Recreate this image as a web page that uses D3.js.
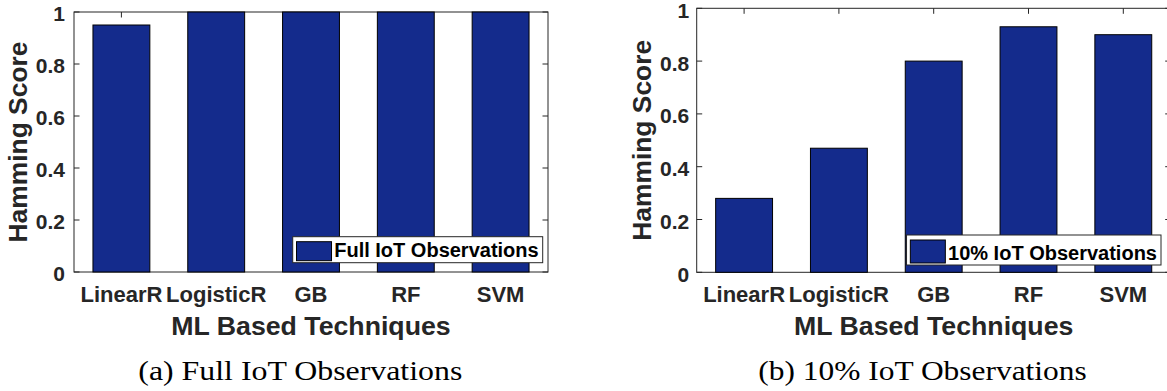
<!DOCTYPE html>
<html>
<head>
<meta charset="utf-8">
<script src="https://cdn.jsdelivr.net/npm/d3@7"></script>
<style>
  html, body { margin: 0; padding: 0; background: #fff; }
  svg { display: block; }
</style>
</head>
<body>
<svg id="fig" width="1167" height="391"></svg>
<script>
// Hamming score of each ML technique, for full and 10% IoT observations
const categories = ["LinearR", "LogisticR", "GB", "RF", "SVM"];
const fullObsScores = [0.95, 1.0, 1.0, 1.0, 1.0];
const tenPctObsScores = [0.28, 0.47, 0.80, 0.93, 0.90];
const yTicks = [0, 0.2, 0.4, 0.6, 0.8, 1];
const yTickLabels = ["0", "0.2", "0.4", "0.6", "0.8", "1"];
const legendLabels = ["Full IoT Observations", "10% IoT Observations"];
const captions = ["(a) Full IoT Observations", "(b) 10% IoT Observations"];
const xAxisTitle = "ML Based Techniques";
const yAxisTitle = "Hamming Score";

const barColor = "rgb(20,43,140)";
const axisColor = "#262626";

// subplot frames
const panels = [
  { values: fullObsScores, legend: legendLabels[0], caption: captions[0],
    x0: 74, x1: 548, yTop: 12, yBot: 272,
    tickLabelRight: 65, yTitleBase: 27,
    legRightGap: 5.3, legBottomGap: 9.3, legH: 26,
    capCx: 300.3, capLen: 324 },
  { values: tenPctObsScores, legend: legendLabels[1], caption: captions[1],
    x0: 696.7, x1: 1170.7, yTop: 8.3, yBot: 272.3,
    tickLabelRight: 689.3, yTitleBase: 651,
    legRightGap: 9.7, legBottomGap: 7.3, legH: 30,
    capCx: 922.5, capLen: 328.4 }
];

const svg = d3.select("#fig");
const sans = "'Liberation Sans', Arial, Helvetica, sans-serif";
const tickLen = 5.5;

panels.forEach(p => {
  const g = svg.append("g");
  const x = d3.scaleBand().domain(categories).range([p.x0, p.x1])
    .paddingInner(0.4).paddingOuter(0.2);
  const y = d3.scaleLinear().domain([0, 1]).range([p.yBot, p.yTop]);

  // inward ticks on all four sides (drawn beneath the bars)
  const ticks = g.append("g").attr("stroke", axisColor).attr("stroke-width", 1);
  yTicks.forEach(t => {
    ticks.append("line").attr("x1", p.x0).attr("x2", p.x0 + tickLen)
      .attr("y1", y(t)).attr("y2", y(t));
    ticks.append("line").attr("x1", p.x1).attr("x2", p.x1 - tickLen)
      .attr("y1", y(t)).attr("y2", y(t));
  });
  categories.forEach(c => {
    const cx = x(c) + x.bandwidth() / 2;
    ticks.append("line").attr("x1", cx).attr("x2", cx)
      .attr("y1", p.yTop).attr("y2", p.yTop + tickLen);
    ticks.append("line").attr("x1", cx).attr("x2", cx)
      .attr("y1", p.yBot).attr("y2", p.yBot - tickLen);
  });

  // axes box
  g.append("rect")
    .attr("x", p.x0).attr("y", p.yTop)
    .attr("width", p.x1 - p.x0).attr("height", p.yBot - p.yTop)
    .attr("fill", "none").attr("stroke", axisColor).attr("stroke-width", 1);

  // bars
  g.selectAll("rect.bar").data(p.values).join("rect")
    .attr("class", "bar")
    .attr("x", (d, i) => x(categories[i]))
    .attr("width", x.bandwidth())
    .attr("y", d => y(d))
    .attr("height", d => y(0) - y(d))
    .attr("fill", barColor)
    .attr("stroke", "#000").attr("stroke-width", 1);

  // y tick labels
  g.selectAll("text.ytl").data(yTicks).join("text")
    .attr("class", "ytl")
    .attr("x", p.tickLabelRight).attr("y", d => y(d))
    .attr("dy", "0.45em").attr("text-anchor", "end")
    .attr("font-family", sans).attr("font-weight", "bold")
    .attr("font-size", 21).attr("fill", axisColor)
    .text((d, i) => yTickLabels[i]);

  // x tick labels
  g.selectAll("text.xtl").data(categories).join("text")
    .attr("class", "xtl")
    .attr("x", d => x(d) + x.bandwidth() / 2).attr("y", 301.7)
    .attr("text-anchor", "middle")
    .attr("font-family", sans).attr("font-weight", "bold")
    .attr("font-size", 22).attr("fill", axisColor)
    .text(d => d);

  // axis titles
  g.append("text")
    .attr("x", (p.x0 + p.x1) / 2).attr("y", 335)
    .attr("text-anchor", "middle")
    .attr("font-family", sans).attr("font-weight", "bold")
    .attr("font-size", 26.7).attr("fill", axisColor)
    .text(xAxisTitle);
  g.append("text")
    .attr("transform", `translate(${p.yTitleBase},${(p.yTop + p.yBot) / 2}) rotate(-90)`)
    .attr("text-anchor", "middle")
    .attr("font-family", sans).attr("font-weight", "bold")
    .attr("font-size", 26.4).attr("fill", axisColor)
    .text(yAxisTitle);

  // legend (south-east corner)
  const leg = g.append("g");
  const legBox = leg.append("rect").attr("fill", "#fff")
    .attr("stroke", axisColor).attr("stroke-width", 1);
  const legText = leg.append("text")
    .attr("font-family", sans).attr("font-weight", "bold")
    .attr("font-size", 20).attr("fill", "#000")
    .text(p.legend);
  const tw = legText.node().getComputedTextLength();
  const boxW = 41.5 + tw + 4;
  const bx = p.x1 - p.legRightGap - boxW;
  const by = p.yBot - p.legBottomGap - p.legH;
  legBox.attr("x", bx).attr("y", by).attr("width", boxW).attr("height", p.legH);
  leg.append("rect")
    .attr("x", bx + 3.8).attr("y", by + 5)
    .attr("width", 35).attr("height", p.legH - 7)
    .attr("fill", barColor).attr("stroke", "#000").attr("stroke-width", 1);
  legText.attr("x", bx + 41.5).attr("y", by + p.legH - 5.5);

  // sub-figure caption
  g.append("text")
    .attr("x", p.capCx).attr("y", 380)
    .attr("text-anchor", "middle")
    .attr("font-family", "'Liberation Serif', 'DejaVu Serif', serif")
    .attr("font-size", 28).attr("fill", "#000")
    .attr("textLength", p.capLen).attr("lengthAdjust", "spacingAndGlyphs")
    .text(p.caption);
});
</script>
</body>
</html>
